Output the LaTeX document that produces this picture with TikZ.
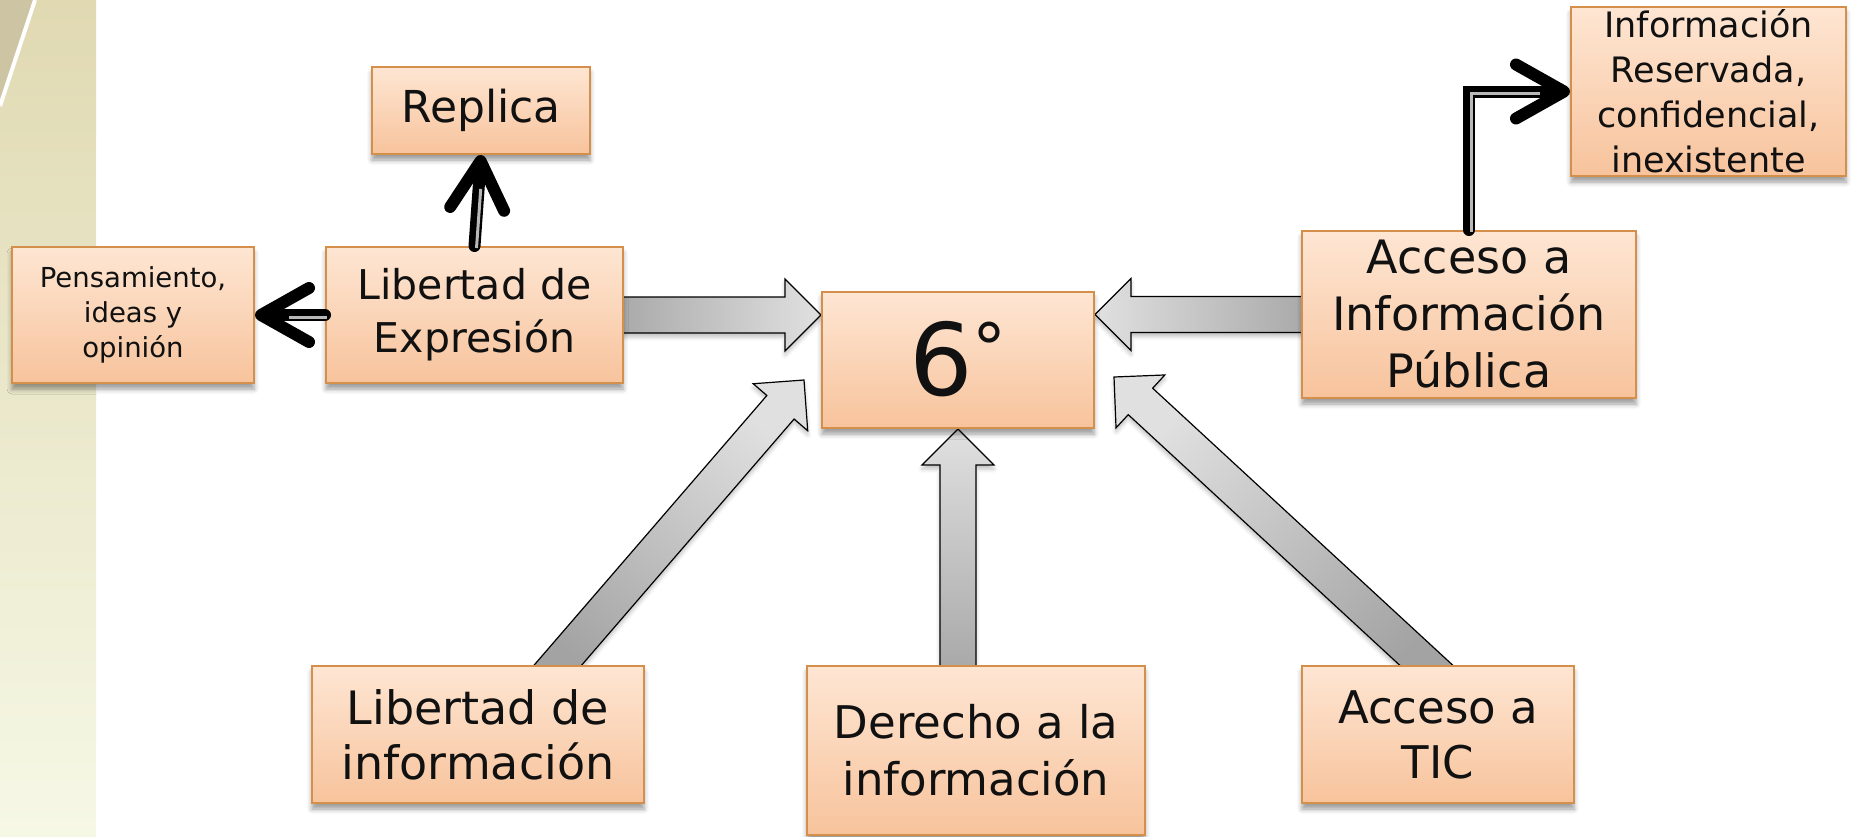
\documentclass[tikz,border=0pt]{standalone}
\usepackage{fontspec}
\setmainfont{DejaVu Sans}
\usetikzlibrary{calc,shadows.blur,arrows.meta,backgrounds}

\definecolor{cajaarriba}{HTML}{FEE6D3}
\definecolor{cajaabajo}{HTML}{F7C39C}
\definecolor{borde}{HTML}{D4904A}
\definecolor{texto}{HTML}{111111}
\definecolor{bandaarriba}{HTML}{E0D9B2}
\definecolor{bandaabajo}{HTML}{F6F8E6}
\definecolor{pliegue}{HTML}{CCC4A2}

% block arrow from #1 to #2, #3 = angle of the shading
\newcommand{\flecha}[3]{%
  \coordinate (cola) at ($ (#1)!-14pt!(#2) $);
  \coordinate (base) at ($ (#2)!18pt!(#1) $);
  \path[bloque,shading angle=#3] ($ (cola)!9pt!90:(#2) $) -- ($ (base)!9pt!90:(#2) $) -- ($ (base)!18pt!90:(#2) $) -- (#2) -- ($ (base)!18pt!-90:(#2) $) -- ($ (base)!9pt!-90:(#2) $) -- ($ (cola)!9pt!-90:(#2) $) -- cycle;}

\begin{document}
\begin{tikzpicture}[x=0.5pt,y=-0.5pt,caja/.style={draw=borde,line width=1pt,top color=cajaarriba,bottom color=cajaabajo,text=texto,align=center,inner sep=0pt,blur shadow={shadow xshift=0pt,shadow yshift=-3pt,shadow blur radius=2.5pt,shadow opacity=40}},bloque/.style={draw=black,line width=0.6pt,bottom color=black!36,top color=black!12,blur shadow={shadow xshift=0pt,shadow yshift=-2pt,shadow blur radius=2pt,shadow opacity=25}},conector/.style={line width=6pt,line cap=round,-{Straight Barb[length=24pt,width=27pt,round]}},interior/.style={line width=1.5pt,white!72!black,shorten >=16pt,transform canvas={xshift=1pt,yshift=-1pt}}]
  \useasboundingbox (0,0) rectangle (1854,836);
  \shade[top color=bandaarriba,bottom color=bandaabajo] (0,0) rectangle (96,836);
  \fill[pliegue] (0,0) -- (34,0) -- (0,103) -- cycle;
  \draw[white,line width=2pt] (35,0) -- (0,106);
  \node[caja,minimum width=136pt,minimum height=68pt,font=\fontsize{50pt}{60pt}\selectfont] (seis) at (958,360) {\raisebox{2pt}{6\raisebox{11.5pt}{\fontsize{34pt}{34pt}\selectfont °}}};
  \node[caja,minimum width=148.5pt,minimum height=68pt,font=\fontsize{20.5pt}{26.5pt}\selectfont] (expresion) at ($ (seis) + (-483.5,-45) $) {Libertad de\\Expresión};
  \node[caja,minimum width=109pt,minimum height=43.5pt,font=\fontsize{22pt}{26pt}\selectfont] (replica) at ($ (expresion) + (6.5,-204.5) $) {Replica};
  \node[caja,minimum width=121pt,minimum height=68pt,font=\fontsize{13.75pt}{17.5pt}\selectfont] (pensamiento) at ($ (expresion) + (-341.5,0) $) {Pensamiento,\\ideas y\\opinión};
  \node[caja,minimum width=167pt,minimum height=83.5pt,font=\fontsize{23pt}{28.5pt}\selectfont] (acceso) at ($ (seis) + (511,-45.5) $) {Acceso a\\Información\\Pública};
  \node[caja,minimum width=137.5pt,minimum height=84.5pt,font=\fontsize{17.5pt}{22.5pt}\selectfont] (reservada) at ($ (acceso) + (239.5,-223) $) {Información\\Reservada,\\confidencial,\\inexistente};
  \node[caja,minimum width=166pt,minimum height=68.5pt,font=\fontsize{23pt}{27.5pt}\selectfont] (libinfo) at ($ (seis) + (-480,374.5) $) {Libertad de\\información};
  \node[caja,minimum width=169pt,minimum height=84.5pt,font=\fontsize{22.5pt}{28.5pt}\selectfont] (derecho) at ($ (seis) + (18,390.5) $) {Derecho a la\\información};
  \node[caja,minimum width=136pt,minimum height=68.5pt,font=\fontsize{22.5pt}{27.5pt}\selectfont] (tic) at ($ (seis) + (480,374.5) $) {Acceso a\\TIC};
  \draw[conector] (expresion.north) -- (replica.south);
  \draw[interior] (expresion.north) -- (replica.south);
  \draw[conector] (expresion.west) -- (pensamiento.east);
  \draw[interior] (expresion.west) -- (pensamiento.east);
  \draw[conector] (acceso.north) |- (reservada.west);
  \draw[interior] (acceso.north) |- (reservada.west);
  \begin{scope}[on background layer]
    \coordinate (c1) at (expresion.east -| seis.west);
    \flecha{expresion.east}{c1}{-90}
    \coordinate (c2) at (acceso.west -| seis.east);
    \flecha{acceso.west}{c2}{90}
    \coordinate (c3) at (seis.south |- derecho.north);
    \flecha{c3}{seis.south}{0}
    \coordinate (c4) at ($ (libinfo.north) + (80,0) $);
    \coordinate (c5) at ($ (seis.south west) + (-17,-49) $);
    \flecha{c4}{c5}{-41}
    \coordinate (c6) at ($ (tic.north) + (-12,0) $);
    \coordinate (c7) at ($ (seis.south east) + (19,-52) $);
    \flecha{c6}{c7}{47}
  \end{scope}
\end{tikzpicture}
\end{document}
